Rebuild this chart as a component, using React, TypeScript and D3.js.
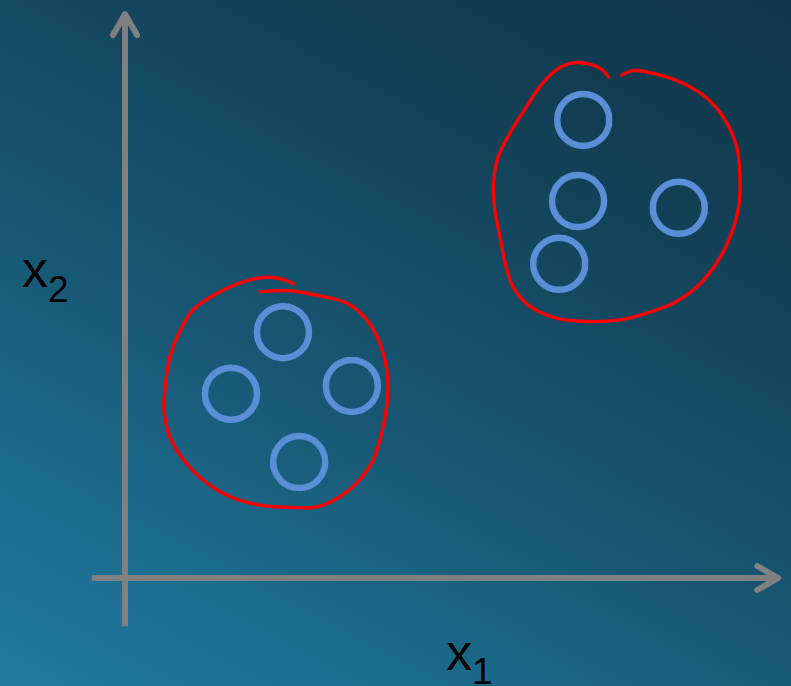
import React from "react";
import * as d3 from "d3";

// Cluster points (x1, x2) in data units
const clusterA_x1 = [2.43, 1.63, 3.49, 2.68];
const clusterA_x2 = [4.39, 3.29, 3.43, 2.07];
const clusterB_x1 = [7.05, 6.97, 8.52, 6.68];
const clusterB_x2 = [8.18, 6.73, 6.61, 5.61];

// Hand-drawn cluster outlines (x1, x2) in data units
const outlineA_x1 = [2.6, 2.44, 2.18, 1.82, 1.41, 1.05, 0.85, 0.69, 0.62, 0.6, 0.69, 0.9, 1.2, 1.62, 2.08, 2.54, 2.95, 3.26, 3.56, 3.82, 3.97, 4.04, 4.03, 3.92, 3.72, 3.41, 2.95, 2.54, 2.08];
const outlineA_x2 = [5.25, 5.33, 5.37, 5.29, 5.08, 4.79, 4.43, 3.95, 3.42, 3.0, 2.52, 2.11, 1.75, 1.45, 1.3, 1.26, 1.27, 1.42, 1.69, 2.11, 2.7, 3.24, 3.71, 4.19, 4.61, 4.91, 5.05, 5.13, 5.11];
const outlineB_x1 = [7.44, 7.31, 7.1, 6.85, 6.62, 6.38, 6.18, 5.95, 5.74, 5.67, 5.69, 5.77, 5.85, 5.97, 6.23, 6.64, 7.1, 7.62, 8.03, 8.44, 8.8, 9.1, 9.31, 9.44, 9.46, 9.41, 9.23, 8.95, 8.59, 8.13, 7.82, 7.64];
const outlineB_x2 = [8.95, 9.1, 9.19, 9.19, 9.06, 8.77, 8.42, 8.0, 7.52, 7.05, 6.57, 6.09, 5.62, 5.2, 4.85, 4.64, 4.58, 4.61, 4.73, 4.91, 5.2, 5.62, 6.09, 6.63, 7.17, 7.7, 8.18, 8.57, 8.83, 9.01, 9.06, 8.98];

// Axis extents in data units
const x1AxisExtent = [-0.51, 10.05];
const x2AxisExtent = [-0.86, 10.07];

const axisLabels = ["x", "1", "x", "2"];

const W = 791;
const H = 686;

export default function App() {
  const x = d3.scaleLinear().domain([0, 10]).range([125, 775]);
  const y = d3.scaleLinear().domain([0, 10]).range([578, 18]);

  const line = d3
    .line<[number, number]>()
    .x((d) => x(d[0]))
    .y((d) => y(d[1]))
    .curve(d3.curveCatmullRom.alpha(0.5));

  const outlineA = outlineA_x1.map((v, i) => [v, outlineA_x2[i]] as [number, number]);
  const outlineB = outlineB_x1.map((v, i) => [v, outlineB_x2[i]] as [number, number]);
  const points = [
    ...clusterA_x1.map((v, i) => [v, clusterA_x2[i]]),
    ...clusterB_x1.map((v, i) => [v, clusterB_x2[i]]),
  ];

  const ox = x(0);
  const oy = y(0);
  const xEnd = x(x1AxisExtent[1]);
  const yEnd = y(x2AxisExtent[1]);

  return (
    <svg
      width={W}
      height={H}
      style={{ position: "absolute", left: 0, top: 0, display: "block" }}
    >
      <defs>
        <linearGradient id="bg" gradientUnits="userSpaceOnUse" x1={791} y1={0} x2={333} y2={863}>
          <stop offset="0" stopColor="#103548" />
          <stop offset="0.22" stopColor="#123f54" />
          <stop offset="0.567" stopColor="#175672" />
          <stop offset="0.65" stopColor="#195e7c" />
          <stop offset="0.8" stopColor="#1c6b8d" />
          <stop offset="1" stopColor="#1f7aa0" />
        </linearGradient>
      </defs>
      <rect x={0} y={0} width={W} height={H} fill="url(#bg)" />

      {/* axes */}
      <g stroke="#808080" strokeWidth={6} fill="none">
        <line x1={x(x1AxisExtent[0])} y1={oy} x2={xEnd - 2} y2={oy} />
        <line x1={ox} y1={y(x2AxisExtent[0])} x2={ox} y2={yEnd + 2} />
        <polyline
          points={`${xEnd - 21},${oy - 12} ${xEnd},${oy} ${xEnd - 21},${oy + 12}`}
          strokeLinecap="round"
          strokeLinejoin="round"
        />
        <polyline
          points={`${ox - 12},${yEnd + 21} ${ox},${yEnd} ${ox + 12},${yEnd + 21}`}
          strokeLinecap="round"
          strokeLinejoin="round"
        />
      </g>

      {/* outlines */}
      <g stroke="#ff0000" strokeWidth={3.4} fill="none" strokeLinecap="round" strokeLinejoin="round">
        <path d={line(outlineA) || ""} />
        <path d={line(outlineB) || ""} />
      </g>

      {/* points */}
      <g stroke="#5a8fd8" strokeWidth={6.5} fill="none">
        {points.map((p, i) => (
          <circle key={i} cx={x(p[0])} cy={y(p[1])} r={26} />
        ))}
      </g>

      {/* labels */}
      <g fontFamily="'Liberation Sans', Arial, sans-serif" fill="#000">
        <text x={446} y={670} fontSize={52}>
          {axisLabels[0]}
          <tspan fontSize={37} dy={14}>{axisLabels[1]}</tspan>
        </text>
        <text x={22} y={287} fontSize={52}>
          {axisLabels[2]}
          <tspan fontSize={37} dy={15}>{axisLabels[3]}</tspan>
        </text>
      </g>
    </svg>
  );
}
